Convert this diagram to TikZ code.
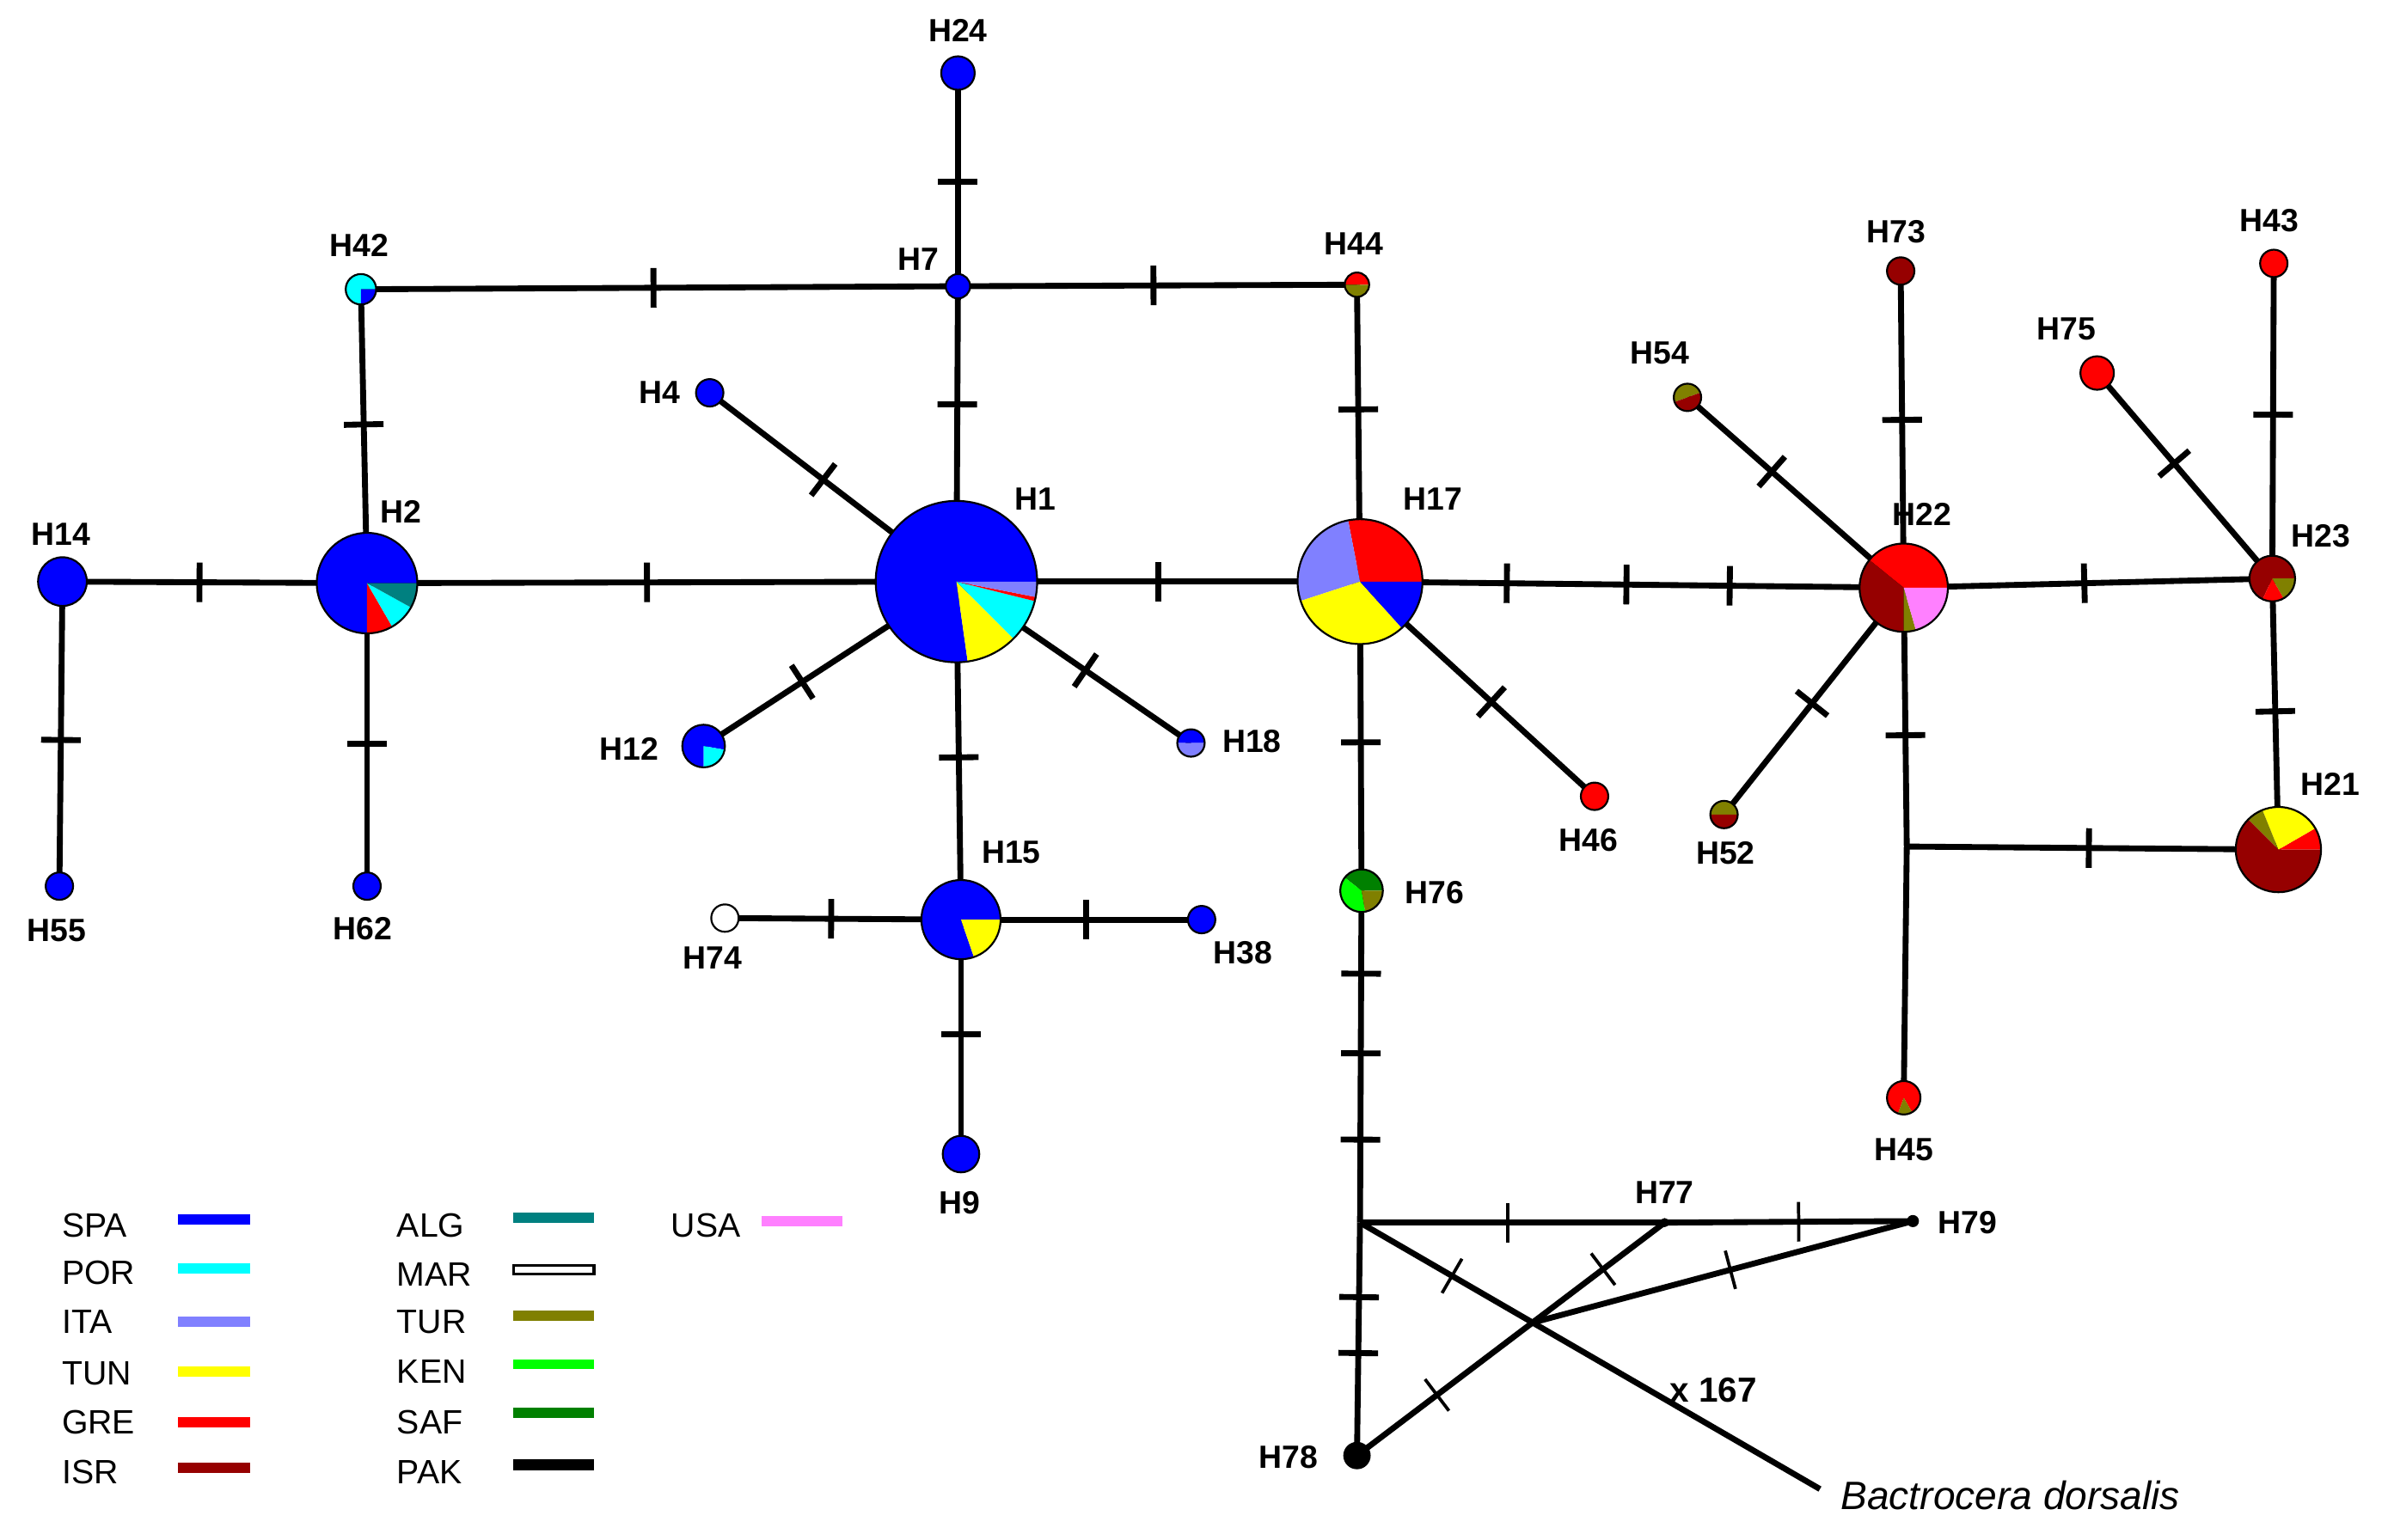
\documentclass[tikz,border=0pt]{standalone}
\usepackage{fontspec}
\setmainfont{Liberation Sans}
\usepackage{tikz}
\usetikzlibrary{calc}

\definecolor{spa}{RGB}{0,0,255}
\definecolor{por}{RGB}{0,255,255}
\definecolor{ita}{RGB}{128,128,255}
\definecolor{tun}{RGB}{255,255,0}
\definecolor{gre}{RGB}{255,0,0}
\definecolor{isr}{RGB}{150,0,0}
\definecolor{alg}{RGB}{0,128,128}
\definecolor{tur}{RGB}{128,128,0}
\definecolor{ken}{RGB}{0,255,0}
\definecolor{saf}{RGB}{0,128,0}
\definecolor{usa}{RGB}{255,128,255}

\tikzset{
  edge/.style={line width=1.1pt},
  mut/.style={sloped, fill=black, inner sep=0pt, minimum width=1.1pt, minimum height=0.26cm},
  mutthin/.style={mut, minimum width=0.6pt},
  rim/.style={draw=black, line width=0.35pt},
  lab/.style={font=\fontsize{6}{7}\selectfont\bfseries, inner sep=0pt},
  legtxt/.style={font=\fontsize{6.3}{7}\selectfont, anchor=west, inner sep=0pt},
  swatch/.style={line width=1.9pt}
}

\begin{document}
\begin{tikzpicture}
\useasboundingbox (0,0) rectangle (15.68,-10.11);

% haplotypes
\coordinate (H1) at (6.28,-3.82);
\coordinate (H2) at (2.41,-3.83);
\coordinate (H14) at (0.41,-3.82);
\coordinate (H55) at (0.39,-5.82);
\coordinate (H62) at (2.41,-5.82);
\coordinate (H42) at (2.37,-1.90);
\coordinate (H7) at (6.29,-1.88);
\coordinate (H24) at (6.29,-0.48);
\coordinate (H44) at (8.91,-1.87);
\coordinate (H4) at (4.66,-2.58);
\coordinate (H12) at (4.62,-4.90);
\coordinate (H18) at (7.82,-4.88);
\coordinate (H15) at (6.31,-6.04);
\coordinate (H74) at (4.76,-6.03);
\coordinate (H38) at (7.89,-6.04);
\coordinate (H9) at (6.31,-7.58);
\coordinate (H17) at (8.93,-3.82);
\coordinate (H46) at (10.47,-5.23);
\coordinate (H76) at (8.94,-5.85);
\coordinate (H78) at (8.91,-9.56);
\coordinate (H77) at (10.93,-8.03);
\coordinate (H79) at (12.56,-8.02);
\coordinate (H22) at (12.50,-3.86);
\coordinate (H73) at (12.48,-1.78);
\coordinate (H54) at (11.08,-2.61);
\coordinate (H52) at (11.32,-5.35);
\coordinate (H45) at (12.50,-7.21);
\coordinate (H23) at (14.92,-3.80);
\coordinate (H43) at (14.93,-1.73);
\coordinate (H75) at (13.77,-2.45);
\coordinate (H21) at (14.96,-5.58);
% median vectors and outgroup
\coordinate (J1) at (8.93,-8.03);
\coordinate (Jr) at (12.52,-5.56);
\coordinate (Bd) at (11.95,-9.78);
\coordinate (X) at (intersection of J1--Bd and H78--H77);

% links
\draw[edge] (H24) -- (H7) node[mut,pos=.51]{};
\draw[edge] (H7) -- (H1) node[mut,pos=.40]{};
\draw[edge] (H42) -- (H7) node[mut,pos=.49]{};
\draw[edge] (H7) -- (H44) node[mut,pos=.49]{};
\draw[edge] (H44) -- (H17) node[mut,pos=.42]{};
\draw[edge] (H42) -- (H2) node[mut,pos=.46]{};
\draw[edge] (H14) -- (H2) node[mut,pos=.45]{};
\draw[edge] (H14) -- (H55) node[mut,pos=.52]{};
\draw[edge] (H2) -- (H62) node[mut,pos=.53]{};
\draw[edge] (H2) -- (H1) node[mut,pos=.475]{};
\draw[edge] (H1) -- (H4) node[mut,pos=.54]{};
\draw[edge] (H1) -- (H12) node[mut,pos=.61]{};
\draw[edge] (H1) -- (H18) node[mut,pos=.55]{};
\draw[edge] (H1) -- (H15) node[mut,pos=.52]{};
\draw[edge] (H1) -- (H17) node[mut,pos=.50]{};
\draw[edge] (H15) -- (H74) node[mut,pos=.55]{};
\draw[edge] (H15) -- (H38) node[mut,pos=.52]{};
\draw[edge] (H15) -- (H9) node[mut,pos=.49]{};
\draw[edge] (H17) -- (H46) node[mut,pos=.56]{};
\draw[edge] (H17) -- (H22) node[mut,pos=.27]{} node[mut,pos=.49]{} node[mut,pos=.68]{};
\draw[edge] (H17) -- (H76) node[mut,pos=.52]{};
\draw[edge] (H76) -- (J1) node[mut,pos=.25]{} node[mut,pos=.49]{} node[mut,pos=.75]{};
\draw[edge] (J1) -- (H78) node[mut,pos=.32]{} node[mut,pos=.56]{};
\draw[edge] (J1) -- (H77) node[mutthin,pos=.485]{};
\draw[edge] (H77) -- (H79) node[mutthin,pos=.54]{};
\draw[edge] (J1) -- (Bd) node[mutthin,pos=.2]{};
\draw[edge] (H78) -- (H77) node[mutthin,pos=.26]{} node[mutthin,pos=.80]{};
\draw[edge] (X) -- (H79) node[mutthin,pos=.52]{};
\draw[edge] (H22) -- (H73) node[mut,pos=.53]{};
\draw[edge] (H22) -- (H54) node[mut,pos=.61]{};
\draw[edge] (H22) -- (H52) node[mut,pos=.51]{};
\draw[edge] (H22) -- (H23) node[mut,pos=.49]{};
\draw[edge] (H22) -- (Jr) node[mut,pos=.57]{};
\draw[edge] (Jr) -- (H21) node[mut,pos=.49]{};
\draw[edge] (Jr) -- (H45);
\draw[edge] (H23) -- (H43) node[mut,pos=.52]{};
\draw[edge] (H23) -- (H75) node[mut,pos=.56]{};
\draw[edge] (H23) -- (H21) node[mut,pos=.49]{};

% pies
\fill[spa] (H1) -- ++(0:.53) arc (0:278:.53) -- cycle;
\fill[tun] (H1) -- ++(278:.53) arc (278:315:.53) -- cycle;
\fill[por] (H1) -- ++(315:.53) arc (315:346:.53) -- cycle;
\fill[gre] (H1) -- ++(346:.53) arc (346:349:.53) -- cycle;
\fill[ita] (H1) -- ++(349:.53) arc (349:360:.53) -- cycle;
\draw[rim] (H1) circle (.53);

\fill[spa] (H2) -- ++(0:.33) arc (0:270:.33) -- cycle;
\fill[gre] (H2) -- ++(270:.33) arc (270:300:.33) -- cycle;
\fill[por] (H2) -- ++(300:.33) arc (300:331:.33) -- cycle;
\fill[alg] (H2) -- ++(331:.33) arc (331:360:.33) -- cycle;
\draw[rim] (H2) circle (.33);

\fill[gre] (H17) -- ++(0:.41) arc (0:101:.41) -- cycle;
\fill[ita] (H17) -- ++(101:.41) arc (101:198:.41) -- cycle;
\fill[tun] (H17) -- ++(198:.41) arc (198:312:.41) -- cycle;
\fill[spa] (H17) -- ++(312:.41) arc (312:360:.41) -- cycle;
\draw[rim] (H17) circle (.41);

\fill[gre] (H22) -- ++(0:.29) arc (0:141:.29) -- cycle;
\fill[isr] (H22) -- ++(141:.29) arc (141:270:.29) -- cycle;
\fill[tur] (H22) -- ++(270:.29) arc (270:286:.29) -- cycle;
\fill[usa] (H22) -- ++(286:.29) arc (286:360:.29) -- cycle;
\draw[rim] (H22) circle (.29);

\fill[isr] (H23) -- ++(0:.15) arc (0:245:.15) -- cycle;
\fill[gre] (H23) -- ++(245:.15) arc (245:300:.15) -- cycle;
\fill[tur] (H23) -- ++(300:.15) arc (300:360:.15) -- cycle;
\draw[rim] (H23) circle (.15);

\fill[gre] (H21) -- ++(0:.28) arc (0:30:.28) -- cycle;
\fill[tun] (H21) -- ++(30:.28) arc (30:112:.28) -- cycle;
\fill[tur] (H21) -- ++(112:.28) arc (112:135:.28) -- cycle;
\fill[isr] (H21) -- ++(135:.28) arc (135:360:.28) -- cycle;
\draw[rim] (H21) circle (.28);

\fill[spa] (H15) -- ++(0:.26) arc (0:289:.26) -- cycle;
\fill[tun] (H15) -- ++(289:.26) arc (289:360:.26) -- cycle;
\draw[rim] (H15) circle (.26);

\fill[saf] (H76) -- ++(0:.14) arc (0:142:.14) -- cycle;
\fill[ken] (H76) -- ++(142:.14) arc (142:280:.14) -- cycle;
\fill[tur] (H76) -- ++(280:.14) arc (280:360:.14) -- cycle;
\draw[rim] (H76) circle (.14);

\fill[spa] (H12) -- ++(-10:.14) arc (-10:270:.14) -- cycle;
\fill[por] (H12) -- ++(270:.14) arc (270:350:.14) -- cycle;
\draw[rim] (H12) circle (.14);

\fill[spa] (H18) -- ++(0:.09) arc (0:180:.09) -- cycle;
\fill[ita] (H18) -- ++(180:.09) arc (180:360:.09) -- cycle;
\draw[rim] (H18) circle (.09);

\fill[por] (H42) -- ++(0:.10) arc (0:270:.10) -- cycle;
\fill[spa] (H42) -- ++(270:.10) arc (270:360:.10) -- cycle;
\draw[rim] (H42) circle (.10);

\fill[gre] (H44) -- ++(0:.08) arc (0:180:.08) -- cycle;
\fill[tur] (H44) -- ++(180:.08) arc (180:360:.08) -- cycle;
\draw[rim] (H44) circle (.08);

\fill[tur] (H54) -- ++(20:.09) arc (20:200:.09) -- cycle;
\fill[isr] (H54) -- ++(200:.09) arc (200:380:.09) -- cycle;
\draw[rim] (H54) circle (.09);

\fill[tur] (H52) -- ++(0:.09) arc (0:180:.09) -- cycle;
\fill[isr] (H52) -- ++(180:.09) arc (180:360:.09) -- cycle;
\draw[rim] (H52) circle (.09);

\fill[gre] (H45) -- ++(-60:.11) arc (-60:250:.11) -- cycle;
\fill[tur] (H45) -- ++(250:.11) arc (250:300:.11) -- cycle;
\draw[rim] (H45) circle (.11);

\filldraw[spa,rim] (H24) circle (.11);
\filldraw[spa,rim] (H7) circle (.08);
\filldraw[spa,rim] (H4) circle (.09);
\filldraw[spa,rim] (H14) circle (.16);
\filldraw[spa,rim] (H55) circle (.09);
\filldraw[spa,rim] (H62) circle (.09);
\filldraw[white,rim] (H74) circle (.09);
\filldraw[spa,rim] (H38) circle (.09);
\filldraw[spa,rim] (H9) circle (.12);
\filldraw[isr,rim] (H73) circle (.09);
\filldraw[gre,rim] (H43) circle (.09);
\filldraw[gre,rim] (H75) circle (.11);
\filldraw[gre,rim] (H46) circle (.09);
\fill[black] (H78) circle (.09);
\fill[black] (H77) circle (.03);
\fill[black] (H79) circle (.04);

% names
\node[lab] (tH24) at (6.29,-0.20) {H24};
\node[lab] (tH42) at (2.36,-1.61) {H42};
\node[lab] (tH7) at (6.03,-1.70) {H7};
\node[lab] (tH44) at (8.89,-1.60) {H44};
\node[lab] (tH73) at (12.45,-1.52) {H73};
\node[lab] (tH43) at (14.90,-1.45) {H43};
\node[lab] (tH75) at (13.57,-2.16) {H75};
\node[lab] (tH54) at (10.90,-2.32) {H54};
\node[lab] (tH4) at (4.33,-2.58) {H4};
\node[lab] (tH14) at (0.40,-3.51) {H14};
\node[lab] (tH2) at (2.63,-3.36) {H2};
\node[lab] (tH1) at (6.80,-3.28) {H1};
\node[lab] (tH17) at (9.41,-3.28) {H17};
\node[lab] (tH22) at (12.62,-3.38) {H22};
\node[lab] (tH23) at (15.24,-3.52) {H23};
\node[lab] (tH21) at (15.30,-5.15) {H21};
\node[lab] (tH12) at (4.13,-4.92) {H12};
\node[lab] (tH18) at (8.22,-4.87) {H18};
\node[lab] (tH46) at (10.43,-5.52) {H46};
\node[lab] (tH52) at (11.33,-5.60) {H52};
\node[lab] (tH76) at (9.42,-5.86) {H76};
\node[lab] (tH15) at (6.64,-5.60) {H15};
\node[lab] (tH74) at (4.68,-6.29) {H74};
\node[lab] (tH38) at (8.16,-6.26) {H38};
\node[lab] (tH55) at (0.37,-6.11) {H55};
\node[lab] (tH62) at (2.38,-6.10) {H62};
\node[lab] (tH9) at (6.30,-7.90) {H9};
\node[lab] (tH45) at (12.50,-7.55) {H45};
\node[lab] (tH77) at (10.93,-7.83) {H77};
\node[lab] (tH79) at (12.92,-8.03) {H79};
\node[lab] (tH78) at (8.46,-9.57) {H78};
\node[lab, font=\fontsize{6.5}{7}\selectfont\bfseries] (n167) at (11.25,-9.13) {x 167};
\node[anchor=west, inner sep=0pt, font=\fontsize{7.4}{8}\selectfont\itshape] (tBd) at (12.08,-9.82) {Bactrocera dorsalis};

% legend
\node[legtxt] (lSPA) at (0.40,-8.05) {SPA};
\node[legtxt] (lPOR) at (0.40,-8.36) {POR};
\node[legtxt] (lITA) at (0.40,-8.68) {ITA};
\node[legtxt] (lTUN) at (0.40,-9.02) {TUN};
\node[legtxt] (lGRE) at (0.40,-9.34) {GRE};
\node[legtxt] (lISR) at (0.40,-9.67) {ISR};
\draw[spa,swatch] (1.17,-8.01) -- (1.64,-8.01);
\draw[por,swatch] (1.17,-8.33) -- (1.64,-8.33);
\draw[ita,swatch] (1.17,-8.68) -- (1.64,-8.68);
\draw[tun,swatch] (1.17,-9.01) -- (1.64,-9.01);
\draw[gre,swatch] (1.17,-9.34) -- (1.64,-9.34);
\draw[isr,swatch] (1.17,-9.64) -- (1.64,-9.64);

\node[legtxt] (lALG) at (2.60,-8.05) {ALG};
\node[legtxt] (lMAR) at (2.60,-8.37) {MAR};
\node[legtxt] (lTUR) at (2.60,-8.68) {TUR};
\node[legtxt] (lKEN) at (2.60,-9.01) {KEN};
\node[legtxt] (lSAF) at (2.60,-9.34) {SAF};
\node[legtxt] (lPAK) at (2.60,-9.67) {PAK};
\draw[alg,swatch] (3.37,-8.00) -- (3.90,-8.00);
\draw[black,line width=0.5pt,fill=white] (3.37,-8.31) rectangle (3.90,-8.37);
\draw[tur,swatch] (3.37,-8.64) -- (3.90,-8.64);
\draw[ken,swatch] (3.37,-8.96) -- (3.90,-8.96);
\draw[saf,swatch] (3.37,-9.28) -- (3.90,-9.28);
\draw[black,line width=2.2pt] (3.37,-9.62) -- (3.90,-9.62);

\node[legtxt] (lUSA) at (4.40,-8.05) {USA};
\draw[usa,swatch] (5.00,-8.02) -- (5.53,-8.02);
\end{tikzpicture}
\end{document}
